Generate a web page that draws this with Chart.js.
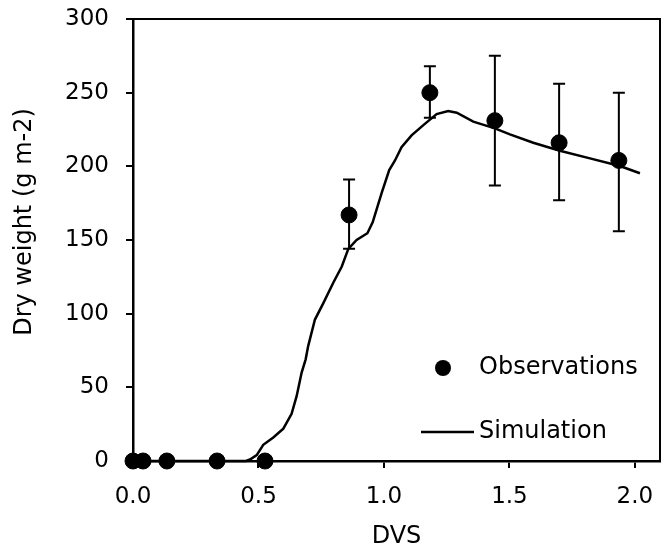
<!DOCTYPE html>
<html>
<head>
<meta charset="utf-8">
<script src="https://cdn.jsdelivr.net/npm/chart.js@4.4.1/dist/chart.umd.min.js"></script>
<style>
  html, body { margin: 0; padding: 0; background: #fff; }
  #wrap { width: 661px; height: 555px; }
</style>
</head>
<body>
<div id="wrap"><canvas id="c" width="661" height="555"></canvas></div>
<script>
"use strict";

// observations (DVS, dry weight, error range)
const obsDvs = [0, 0.04, 0.135, 0.335, 0.526, 0.861, 1.183, 1.442, 1.698, 1.936];
const obsDw = [0, 0, 0, 0, 0, 167, 250, 231, 216, 204];
const obsLow = [null, null, null, null, null, 144, 233, 187, 177, 156];
const obsHigh = [null, null, null, null, null, 191, 268, 275, 256, 250];

// simulation curve
const simDvs = [0, 0.45, 0.466, 0.493, 0.519, 0.559, 0.599, 0.632, 0.652, 0.672, 0.688, 0.698, 0.725,
  0.758, 0.798, 0.832, 0.858, 0.891, 0.934, 0.955, 0.991, 1.021, 1.044, 1.07, 1.11, 1.157, 1.21,
  1.256, 1.29, 1.356, 1.442, 1.502, 1.595, 1.701, 1.821, 1.94, 2.02];
const simDw = [0, 0, 1, 4, 11, 16, 22, 32, 44, 60, 69, 78, 96,
  107, 121, 132, 144, 150, 154.6, 162, 182, 197.5, 204, 213, 221, 228, 235.5,
  237.5, 236.4, 230.3, 225.8, 221.7, 216, 210.6, 205.4, 200.2, 195.3];

const xTicks = [0, 0.5, 1.0, 1.5, 2.0];
const yTicks = [0, 50, 100, 150, 200, 250, 300];

const FONT = "'DejaVu Sans', Verdana, sans-serif";
const FSIZE = 23;   // tick labels
const LSIZE = 24;   // legend + axis titles
const INK = "#000";

const pts = (xs, ys) => xs.map((x, i) => ({ x, y: ys[i] }));

// ── error bars + frame ──────────────────────────────────────
const errorBars = {
  id: "errorBars",
  beforeDatasetsDraw(chart) {
    const { ctx, chartArea: a } = chart;
    ctx.save();
    ctx.strokeStyle = INK;
    ctx.lineWidth = 2;
    ctx.strokeRect(a.left, a.top, a.right - a.left, a.bottom - a.top);
    ctx.restore();
  },
  afterDatasetsDraw(chart) {
    const { ctx, scales: { x, y } } = chart;
    ctx.save();
    ctx.strokeStyle = INK;
    ctx.lineWidth = 2;
    obsDvs.forEach((d, i) => {
      if (obsLow[i] == null) return;
      const px = x.getPixelForValue(d);
      const lo = y.getPixelForValue(obsLow[i]);
      const hi = y.getPixelForValue(obsHigh[i]);
      ctx.beginPath();
      ctx.moveTo(px, lo); ctx.lineTo(px, hi);
      ctx.moveTo(px - 6, lo); ctx.lineTo(px + 6, lo);
      ctx.moveTo(px - 6, hi); ctx.lineTo(px + 6, hi);
      ctx.stroke();
    });
    ctx.restore();
  },
};

// ── legend inside plot + y title (sits a bit above centre) ──
const insideLegend = {
  id: "insideLegend",
  afterDraw(chart) {
    const { ctx } = chart;
    ctx.save();
    ctx.fillStyle = INK;
    ctx.strokeStyle = INK;
    ctx.font = LSIZE + "px " + FONT;
    ctx.textBaseline = "middle";
    ctx.beginPath();
    ctx.arc(443, 368, 8, 0, Math.PI * 2);
    ctx.fill();
    ctx.fillText("Observations", 479, 368);
    ctx.lineWidth = 2.5;
    ctx.beginPath();
    ctx.moveTo(421, 432); ctx.lineTo(474, 432);
    ctx.stroke();
    ctx.fillText("Simulation", 479, 432);

    ctx.translate(25, 222);
    ctx.rotate(-Math.PI / 2);
    ctx.textAlign = "center";
    ctx.fillText("Dry weight (g m-2)", 0, 0);
    ctx.restore();
  },
};

const noPad = (s) => { s.paddingTop = 0; s.paddingBottom = 0; s.paddingLeft = 0; s.paddingRight = 0; };

new Chart(document.getElementById("c"), {
  type: "scatter",
  data: {
    datasets: [
      {
        label: "Simulation",
        data: pts(simDvs, simDw),
        showLine: true,
        borderColor: INK,
        borderWidth: 2.5,
        pointRadius: 0,
        tension: 0,
        clip: false,
      },
      {
        label: "Observations",
        data: pts(obsDvs, obsDw),
        backgroundColor: INK,
        borderColor: INK,
        pointRadius: 8,
        clip: false,
      },
    ],
  },
  options: {
    responsive: false,
    animation: false,
    devicePixelRatio: 1,
    layout: { autoPadding: false, padding: { top: 19, right: 1, left: 0, bottom: 0 } },
    plugins: { legend: { display: false }, tooltip: { enabled: false } },
    scales: {
      x: {
        type: "linear",
        min: 0,
        max: 2.1,
        afterFit: (s) => { s.height = 94; noPad(s); },
        afterBuildTicks: (s) => { s.ticks = xTicks.map((v) => ({ value: v })); },
        ticks: {
          color: INK,
          font: { family: FONT, size: FSIZE },
          padding: 15,
          callback: (v) => v.toFixed(1),
        },
        grid: { display: true, drawOnChartArea: false, drawTicks: true, tickLength: 7, color: INK, lineWidth: 2 },
        border: { display: true, color: INK, width: 2.5 },
        title: { display: true, text: "DVS", color: INK, font: { family: FONT, size: LSIZE }, padding: { top: 6, bottom: 4 } },
      },
      y: {
        type: "linear",
        min: 0,
        max: 300,
        afterFit: (s) => { s.width = 133; noPad(s); },
        afterBuildTicks: (s) => { s.ticks = yTicks.map((v) => ({ value: v })); },
        ticks: {
          color: INK,
          font: { family: FONT, size: FSIZE },
          padding: 17,
        },
        grid: { display: true, drawOnChartArea: false, drawTicks: true, tickLength: 7, color: INK, lineWidth: 2 },
        border: { display: true, color: INK, width: 2.5 },
        title: { display: false },
      },
    },
  },
  plugins: [errorBars, insideLegend],
});
</script>
</body>
</html>
